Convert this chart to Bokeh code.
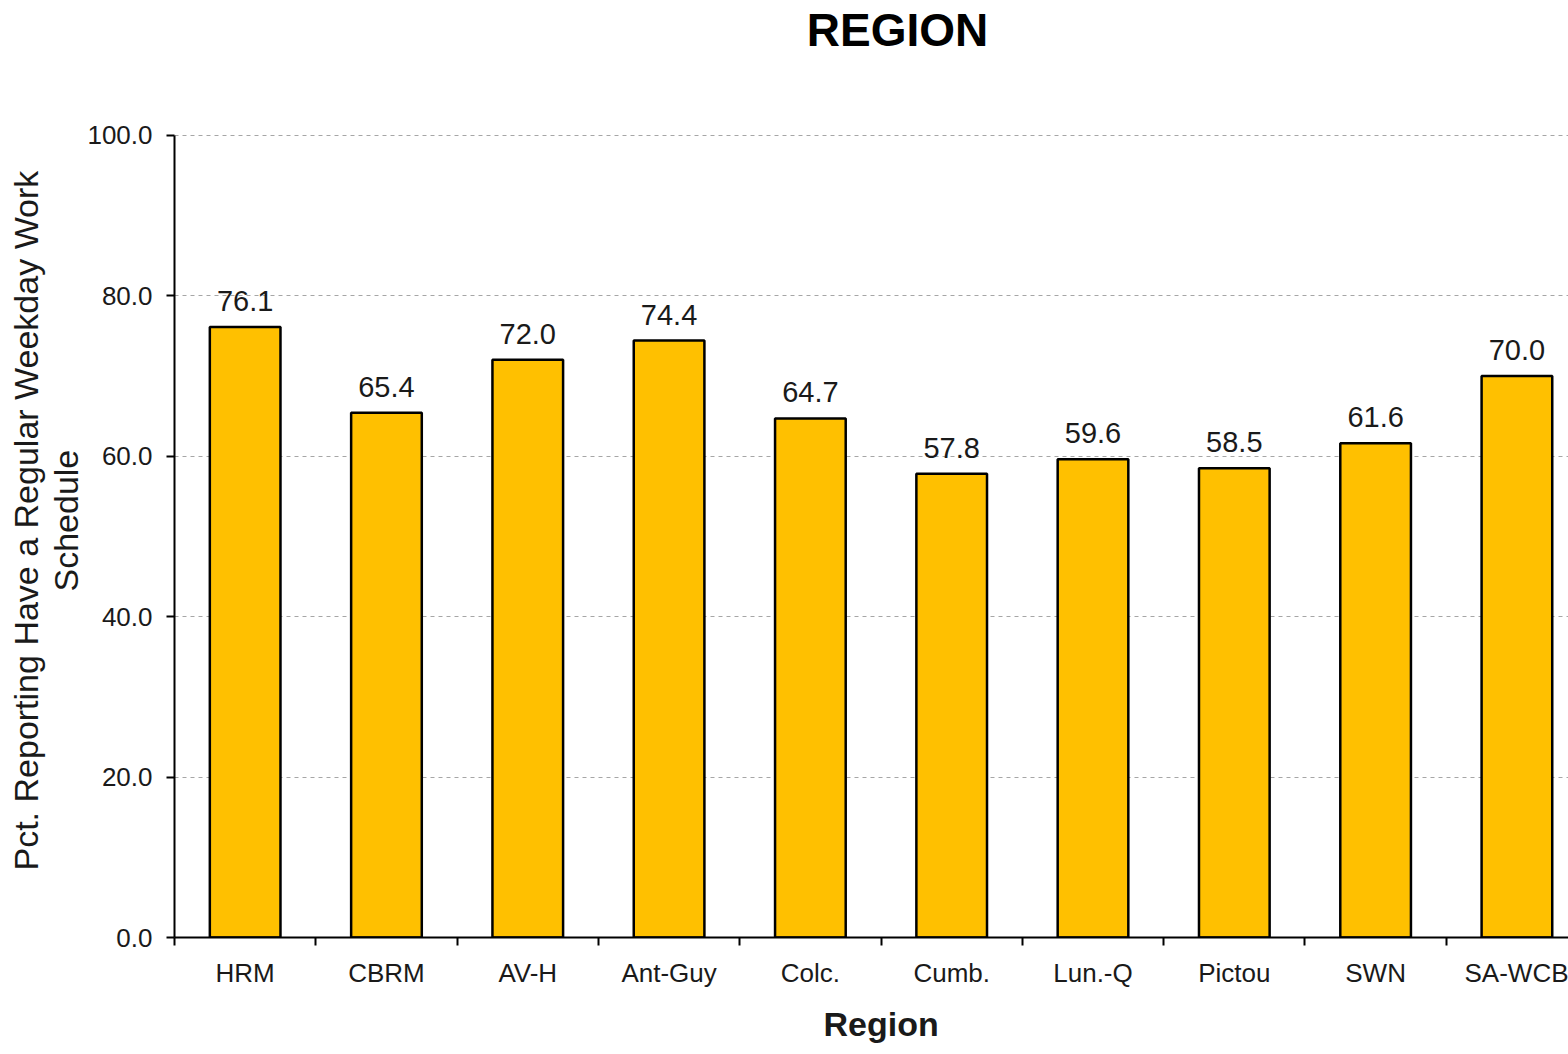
from bokeh.plotting import figure
from bokeh.models import ColumnDataSource, Range1d, FixedTicker, Label, Title, CustomJSTickFormatter
from bokeh.embed import file_html
from bokeh.resources import INLINE
from bokeh.core.properties import value

categories = ["HRM", "CBRM", "AV-H", "Ant-Guy", "Colc.", "Cumb.", "Lun.-Q", "Pictou", "SWN", "SA-WCB"]
values = [76.1, 65.4, 72.0, 74.4, 64.7, 57.8, 59.6, 58.5, 61.6, 70.0]
y_ticks = [0, 20, 40, 60, 80, 100]
y_title_lines = ["Pct. Reporting Have a Regular Weekday Work", "Schedule"]

centers = [i + 0.5 for i in range(len(categories))]
bounds = [i for i in range(len(categories) + 1)]
labels_txt = ["%.1f" % v for v in values]

src = ColumnDataSource(dict(x=centers, top=values, lab=labels_txt))

FONT = "Liberation Sans"

# frame spans the full height above the x axis; the y axis itself is bounded to 0..100
p = figure(width=1568, height=1054, output_backend="svg", toolbar_location=None,
           x_range=Range1d(0, 9.865), y_range=Range1d(0, 116.79),
           min_border_left=174, min_border_right=0, min_border_top=0, min_border_bottom=115)
p.outline_line_color = None
p.background_fill_color = "white"

p.vbar(x="x", top="top", bottom=0, width=0.5, source=src,
       fill_color="#FFC000", line_color="black", line_width=2.5)
p.text(x="x", y="top", text="lab", source=src, text_align="center",
       text_baseline="alphabetic", y_offset=-26, text_font=value(FONT),
       text_font_size="29px", text_color="#1a1a1a")

# x axis
p.xaxis.ticker = FixedTicker(ticks=centers, minor_ticks=bounds)
p.xaxis.major_label_overrides = {c: categories[i] for i, c in enumerate(centers)}
p.xaxis.major_tick_out = 0
p.xaxis.major_tick_in = 0
p.xaxis.minor_tick_out = 8
p.xaxis.minor_tick_in = 0
p.xaxis.minor_tick_line_width = 2
p.xaxis.minor_tick_line_color = "black"
p.xaxis.axis_line_width = 2
p.xaxis.axis_line_color = "black"
p.xaxis.major_label_text_font = FONT
p.xaxis.major_label_text_font_size = "26px"
p.xaxis.major_label_text_color = "#1a1a1a"
p.xaxis.major_label_standoff = 12
p.xgrid.grid_line_color = None

# y axis
p.yaxis.ticker = FixedTicker(ticks=y_ticks)
p.yaxis.bounds = (0, 100)
p.yaxis.formatter = CustomJSTickFormatter(code="return tick.toFixed(1);")
p.yaxis.major_tick_out = 8
p.yaxis.major_tick_in = 0
p.yaxis.major_tick_line_width = 2
p.yaxis.minor_tick_line_color = None
p.yaxis.axis_line_width = 2
p.yaxis.axis_line_color = "black"
p.yaxis.major_label_text_font = FONT
p.yaxis.major_label_text_font_size = "26px"
p.yaxis.major_label_text_color = "#1a1a1a"
p.yaxis.major_label_standoff = 14
p.ygrid.grid_line_color = "#a6a6a6"
p.ygrid.grid_line_dash = "4 4"
p.ygrid.grid_line_width = 1

# y axis title: two stacked left-side titles (inner line first)
yt2 = Title(text=y_title_lines[1], align="left", offset=346, text_font=FONT,
            text_font_size="34px", text_font_style="normal", text_color="#1a1a1a", standoff=0)
p.add_layout(yt2, "left")
yt1 = Title(text=y_title_lines[0], align="left", offset=67, text_font=FONT,
            text_font_size="34px", text_font_style="normal", text_color="#1a1a1a", standoff=0)
p.add_layout(yt1, "left")

# chart title inside the (extended) frame, above the bars
title = Label(x=5.117, y=113.06, text="REGION",
              text_align="center", text_baseline="middle", text_font=FONT,
              text_font_size="46px", text_font_style="bold", text_color="black")
p.add_layout(title)

# x axis title
xl = Title(text="Region", align="left", offset=649, text_font=FONT,
           text_font_size="34px", text_font_style="bold", text_color="#1a1a1a", standoff=24)
p.add_layout(xl, "below")

open("out.html", "w").write(file_html(p, INLINE))
